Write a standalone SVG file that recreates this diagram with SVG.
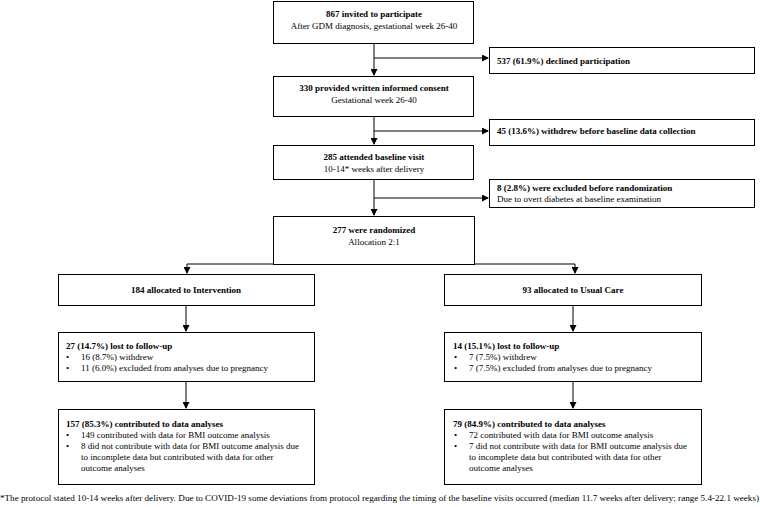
<svg xmlns="http://www.w3.org/2000/svg" width="760" height="507" viewBox="0 0 760 507">
<defs>
<marker id="ah" markerWidth="7" markerHeight="7" refX="6" refY="3.5" orient="auto" markerUnits="userSpaceOnUse">
<path d="M0,0 L7,3.5 L0,7 Z" fill="#000"/>
</marker>
<style>
.box{fill:#fff;stroke:#000;stroke-width:1}
text{font-family:"Liberation Serif","Times New Roman",serif;font-size:9px;fill:#000}
.b{font-weight:bold}
.c{text-anchor:middle}
.ln{fill:none;stroke:#000;stroke-width:1}
</style>
</defs>
<rect width="760" height="507" fill="#fff"/>
<g id="connectors">
<path class="ln" d="M374,44 V75" marker-end="url(#ah)"/>
<path class="ln" d="M374,58 H488" marker-end="url(#ah)"/>
<path class="ln" d="M374,116 V144" marker-end="url(#ah)"/>
<path class="ln" d="M374,131 H488" marker-end="url(#ah)"/>
<path class="ln" d="M374,179 V215" marker-end="url(#ah)"/>
<path class="ln" d="M374,198 H488" marker-end="url(#ah)"/>
<path class="ln" d="M187,264 H575"/>
<path class="ln" d="M187,264 V273" marker-end="url(#ah)"/>
<path class="ln" d="M575,264 V273" marker-end="url(#ah)"/>
<path class="ln" d="M186,305 V331" marker-end="url(#ah)"/>
<path class="ln" d="M573,305 V331" marker-end="url(#ah)"/>
<path class="ln" d="M186,382 V408" marker-end="url(#ah)"/>
<path class="ln" d="M573,382 V408" marker-end="url(#ah)"/>
</g>
<g id="invited">
<rect class="box" x="273.5" y="1.5" width="200" height="42"/>
<text class="b c" x="374" y="17">867 invited to participate</text>
<text class="c" x="374" y="29">After GDM diagnosis, gestational week 26-40</text>
</g>
<g id="declined">
<rect class="box" x="489.5" y="47.5" width="265" height="26"/>
<text class="b" x="497" y="64">537 (61.9%) declined participation</text>
</g>
<g id="consent">
<rect class="box" x="273.5" y="76.5" width="200" height="40"/>
<text class="b c" x="374" y="91">330 provided written informed consent</text>
<text class="c" x="374" y="103">Gestational week 26-40</text>
</g>
<g id="withdrew">
<rect class="box" x="489.5" y="119.5" width="265" height="26"/>
<text class="b" x="497" y="134">45 (13.6%) withdrew before baseline data collection</text>
</g>
<g id="baseline">
<rect class="box" x="273.5" y="145.5" width="200" height="34"/>
<text class="b c" x="374" y="160">285 attended baseline visit</text>
<text class="c" x="374" y="172">10-14* weeks after delivery</text>
</g>
<g id="excluded">
<rect class="box" x="489.5" y="179.5" width="265" height="28"/>
<text class="b" x="497" y="191">8 (2.8%) were excluded before randomization</text>
<text x="497" y="202">Due to overt diabetes at baseline examination</text>
</g>
<g id="randomized">
<rect class="box" x="273.5" y="216.5" width="201" height="48"/>
<text class="b c" x="374" y="233">277 were randomized</text>
<text class="c" x="374" y="245">Allocation 2:1</text>
</g>
<g id="intervention">
<rect class="box" x="58.5" y="274.5" width="256" height="31"/>
<text class="b c" x="186" y="293">184 allocated to Intervention</text>
</g>
<g id="usualcare">
<rect class="box" x="444.5" y="274.5" width="257" height="31"/>
<text class="b c" x="573" y="293">93 allocated to Usual Care</text>
</g>
<g id="lost-intervention">
<rect class="box" x="58.5" y="332.5" width="256" height="49"/>
<text class="b" x="66" y="349">27 (14.7%) lost to follow-up</text>
<text x="66" y="360">•</text><text x="81" y="360">16 (8.7%) withdrew</text>
<text x="66" y="371">•</text><text x="81" y="371">11 (6.0%) excluded from analyses due to pregnancy</text>
</g>
<g id="lost-usualcare">
<rect class="box" x="444.5" y="332.5" width="257" height="49"/>
<text class="b" x="453" y="349">14 (15.1%) lost to follow-up</text>
<text x="454" y="360">•</text><text x="469" y="360">7 (7.5%) withdrew</text>
<text x="454" y="371">•</text><text x="469" y="371">7 (7.5%) excluded from analyses due to pregnancy</text>
</g>
<g id="analysed-intervention">
<rect class="box" x="58.5" y="409.5" width="256" height="75"/>
<text class="b" x="66" y="427">157 (85.3%) contributed to data analyses</text>
<text x="66" y="438">•</text><text x="81" y="438">149 contributed with data for BMI outcome analysis</text>
<text x="66" y="449">•</text><text x="81" y="449">8 did not contribute with data for BMI outcome analysis due</text>
<text x="81" y="460">to incomplete data but contributed with data for other</text>
<text x="81" y="471">outcome analyses</text>
</g>
<g id="analysed-usualcare">
<rect class="box" x="444.5" y="409.5" width="257" height="75"/>
<text class="b" x="453" y="427">79 (84.9%) contributed to data analyses</text>
<text x="454" y="438">•</text><text x="469" y="438">72 contributed with data for BMI outcome analysis</text>
<text x="454" y="449">•</text><text x="469" y="449">7 did not contribute with data for BMI outcome analysis due</text>
<text x="469" y="460">to incomplete data but contributed with data for other</text>
<text x="469" y="471">outcome analyses</text>
</g>
<text x="0" y="501" style="font-size:8.6px" textLength="759" lengthAdjust="spacingAndGlyphs">*The protocol stated 10-14 weeks after delivery. Due to COVID-19 some deviations from protocol regarding the timing of the baseline visits occurred (median 11.7 weeks after delivery; range 5.4-22.1 weeks)</text>
</svg>
